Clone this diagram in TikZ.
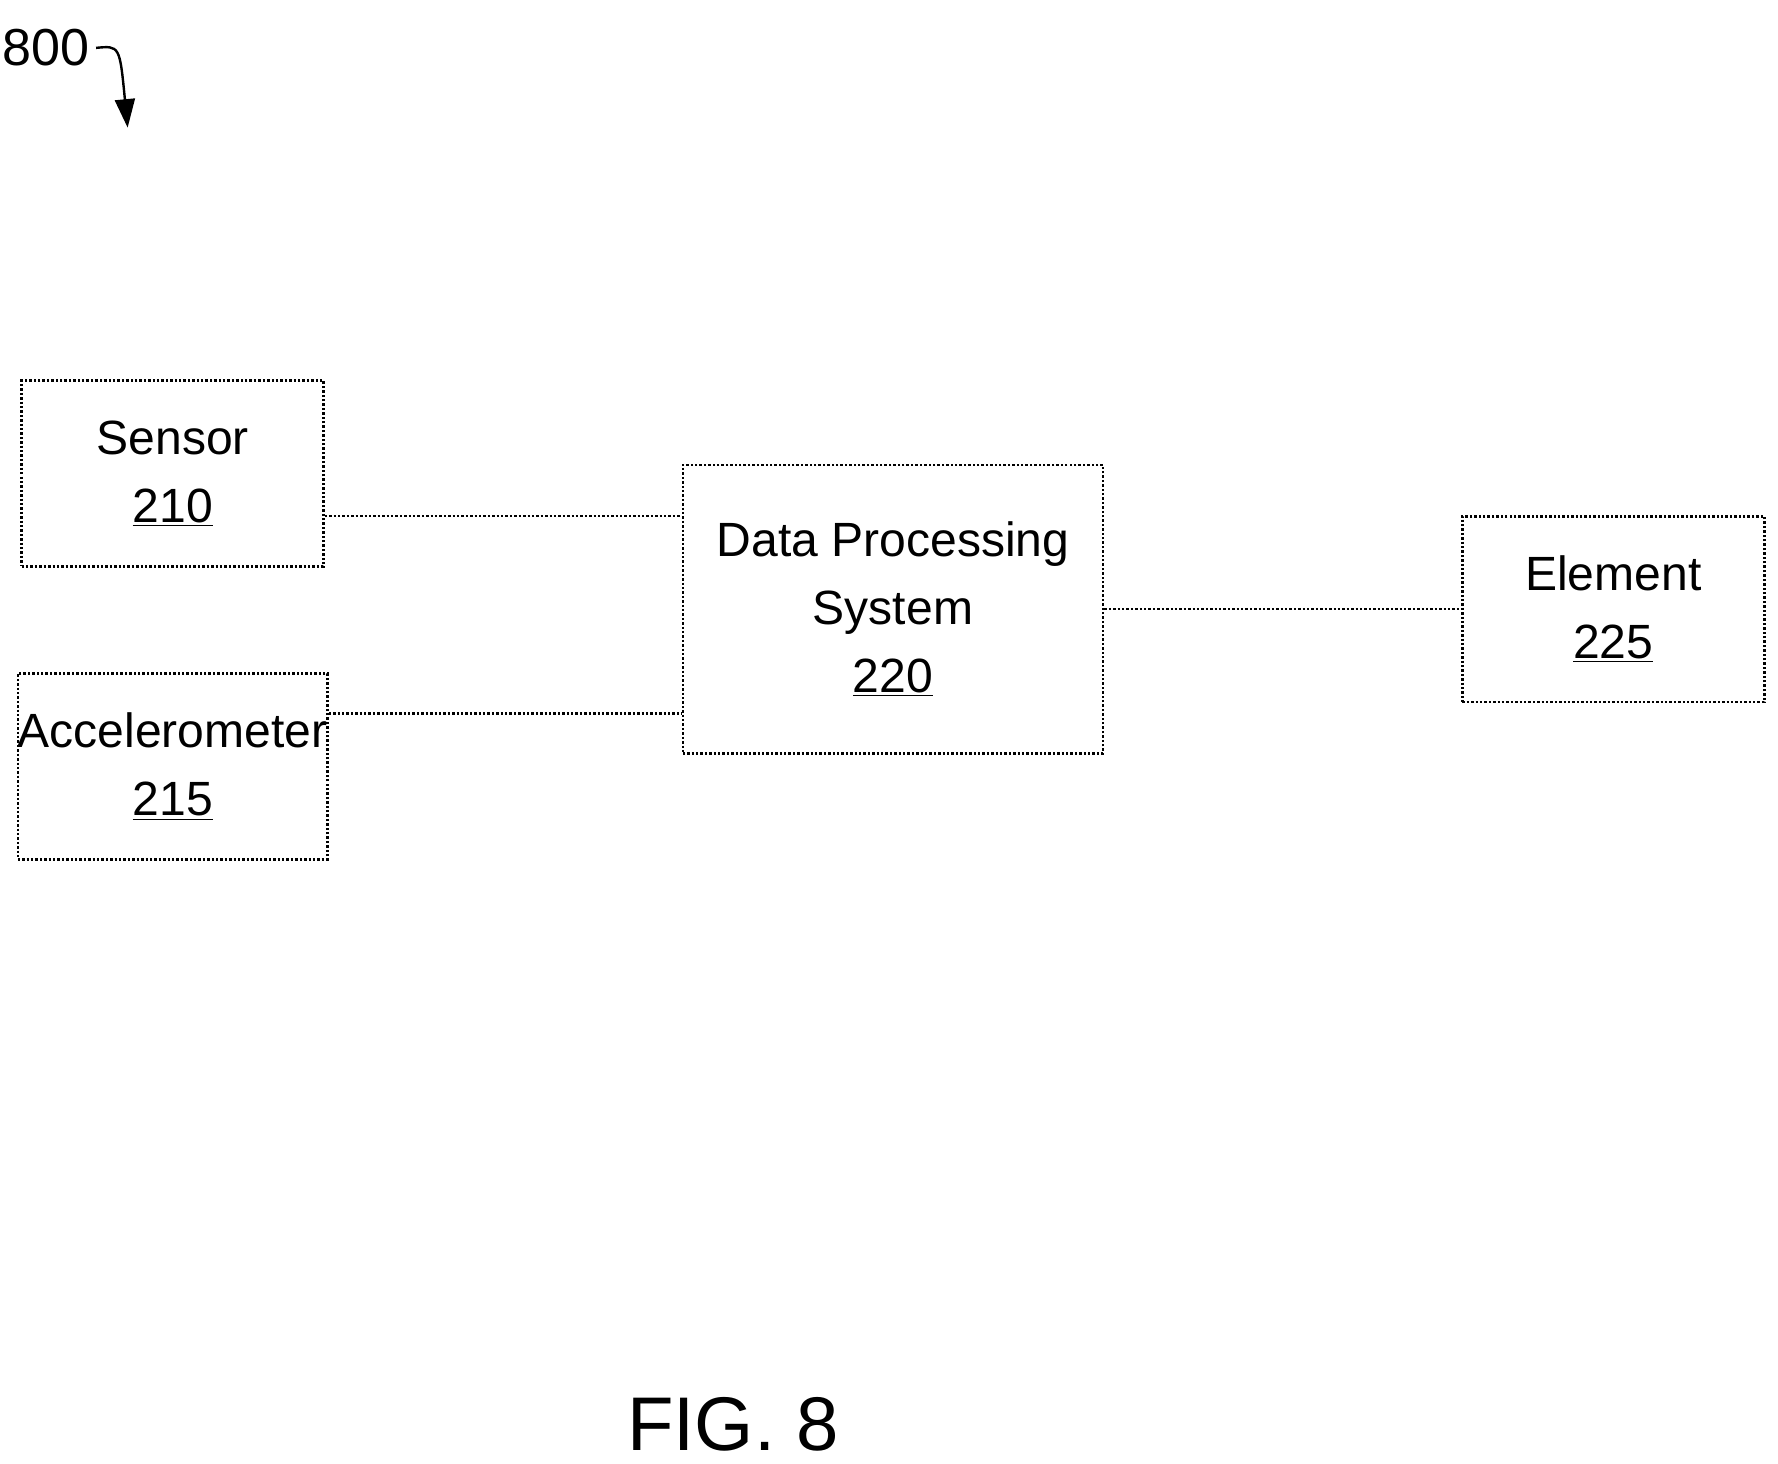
\documentclass[tikz,border=0pt]{standalone}
\usepackage{fontspec}
\setmainfont{Liberation Sans}
\usetikzlibrary{positioning,arrows.meta}
\tikzset{
  block/.style={draw,line width=1.2pt,densely dotted,align=center,inner sep=0pt,
    font=\fontsize{24}{34}\selectfont},
  link/.style={line width=1.2pt,densely dotted}
}
\begin{document}
\begin{tikzpicture}[x=0.02cm,y=-0.02cm]
  \useasboundingbox (0,0) rectangle (1560,1284);
  % blocks
  \node[block,minimum width=5.3cm,minimum height=3.26cm] (sensor) at (151.5,415.5) {Sensor\\\underline{210}};
  \node[block,minimum width=5.3cm,minimum height=3.26cm] (accel) at (151.5,672.5) {Accelerometer\\\underline{215}};
  \node[block,minimum width=7.38cm,minimum height=5.06cm] (dps) at (783.5,534.5) {Data Processing\\System\\\underline{220}};
  \node[block,minimum width=5.3cm,minimum height=3.26cm] (element) at (1415.5,534.5) {Element\\\underline{225}};
  % links
  \draw[link] ([yshift=-0.74cm]sensor.east) -- ([yshift=-0.74cm]sensor.east -| dps.west);
  \draw[link] ([yshift=0.93cm]accel.east) -- ([yshift=0.93cm]accel.east -| dps.west);
  \draw[link] (dps) -- (element);
  % label
  \node[font=\fontsize{26}{30}\selectfont] (fig) at (40,42) {800};
  \coordinate (tip) at (112,112);
  \draw[line width=1.2pt,-{Triangle[length=0.5cm,width=0.35cm]}] (fig.east) .. controls (105,40) .. (tip);
  \node[font=\fontsize{38}{44}\selectfont] (caption) at (643,1250) {FIG. 8};
\end{tikzpicture}
\end{document}
